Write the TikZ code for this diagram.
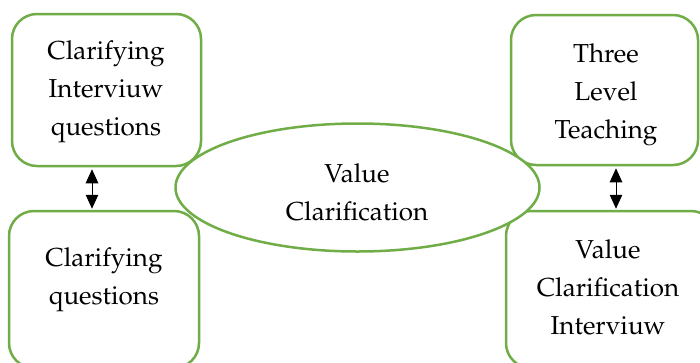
\documentclass[tikz,border=0pt]{standalone}
\usepackage[T1]{fontenc}
\usepackage{palatino}
\usetikzlibrary{arrows.meta,shapes.geometric}
\definecolor{boxgreen}{HTML}{70AD47}
\tikzset{
  gbox/.style={draw=boxgreen,line width=2.5pt,rounded corners=25pt,fill=white},
  gell/.style={draw=boxgreen,line width=2.5pt,fill=white},
  lbl/.style={align=center,inner sep=0pt,font=\fontsize{26}{38}\selectfont},
  dbl/.style={{Triangle[length=14pt,width=12.5pt]}-{Triangle[length=14pt,width=12.5pt]},line width=1pt,black}
}
\begin{document}
\begin{tikzpicture}[x=1pt,y=-1pt]
\useasboundingbox (0,0) rectangle (700,362);
\clip (0,0) rectangle (700,362);
\fill[white] (0,0) rectangle (700,362);
% boxes
\node[gbox,minimum width=189pt,minimum height=152pt,inner sep=0pt] (tl) at (106.5,90) {};
\node[gbox,minimum width=190pt,minimum height=157pt,inner sep=0pt] (bl) at (104,289.5) {};
\node[gbox,minimum width=187pt,minimum height=150pt,inner sep=0pt] (tr) at (604.5,90) {};
\node[gbox,minimum width=210pt,minimum height=157pt,inner sep=0pt] (br) at (611,289.5) {};
% ellipse
\node[gell,ellipse,minimum width=364pt,minimum height=128pt,inner sep=0pt] (vc) at (357.5,187.5) {};
% labels
\node[lbl] (tlt) at (106,92) {Clarifying\\Interviuw\\questions};
\node[lbl] (blt) at (104,280) {Clarifying\\questions};
\node[lbl] (trt) at (606,95) {Three\\Level\\Teaching};
\node[lbl] (brt) at (608,287) {Value\\Clarification\\Interviuw};
\node[lbl] (vct) at (357,192) {Value\\Clarification};
% arrows
\draw[dbl,shorten <=2pt,shorten >=1pt] ([xshift=-14.5pt]tl.south) -- ([xshift=-12pt]bl.north);
\draw[dbl,shorten <=2pt,shorten >=1pt] ([xshift=11.5pt]tr.south) -- ([xshift=5pt]br.north);
\end{tikzpicture}
\end{document}
